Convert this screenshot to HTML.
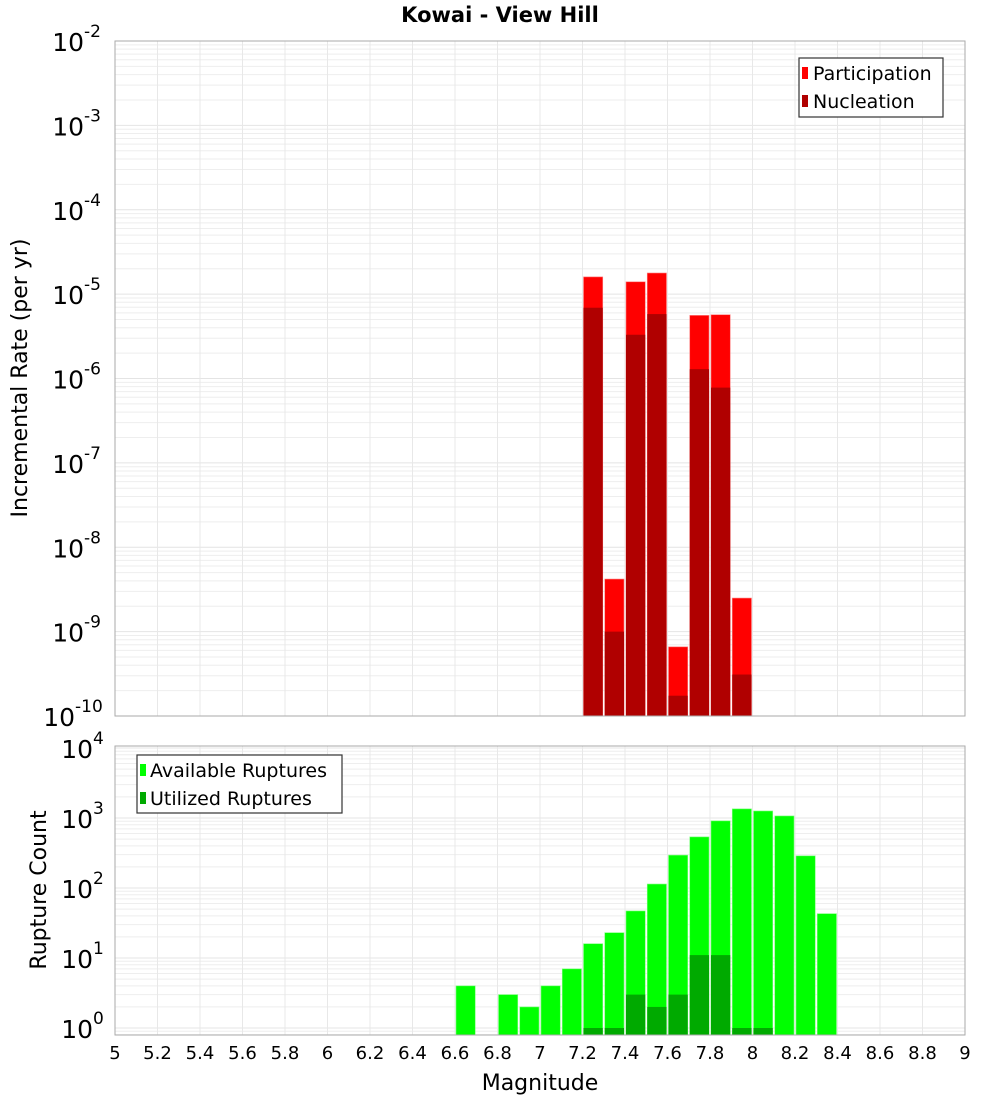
<!DOCTYPE html>
<html><head><meta charset="utf-8"><style>
body{margin:0;background:#fff;}
svg{display:block;font-family:"DejaVu Sans","Liberation Sans",sans-serif;}
</style></head><body>
<svg id="c" width="1000" height="1100" xmlns="http://www.w3.org/2000/svg">
<text x="500" y="22" text-anchor="middle" font-size="21" font-weight="bold">Kowai - View Hill</text>
<g id="topPlot"></g>
<g id="botPlot"></g>
<text transform="translate(27,378) rotate(-90)" text-anchor="middle" font-size="22">Incremental Rate (per yr)</text>
<text transform="translate(46,890) rotate(-90)" text-anchor="middle" font-size="22">Rupture Count</text>
<text x="540" y="1090" text-anchor="middle" font-size="22">Magnitude</text>
<g>
<rect x="799" y="58" width="144" height="59" fill="#fff" stroke="#333" stroke-width="1.2"/>
<rect x="802" y="67" width="6" height="12" fill="#ff0000"/>
<text x="813" y="80" font-size="19">Participation</text>
<rect x="802" y="95" width="6" height="12" fill="#b00000"/>
<text x="813" y="108" font-size="19">Nucleation</text>
</g>
<g>
<rect x="137" y="755" width="205" height="58" fill="#fff" stroke="#333" stroke-width="1.2"/>
<rect x="140" y="764" width="6" height="12" fill="#00ff00"/>
<text x="150" y="777" font-size="19">Available Ruptures</text>
<rect x="140" y="792" width="6" height="12" fill="#00aa00"/>
<text x="150" y="805" font-size="19">Utilized Ruptures</text>
</g>
</svg>
<script>
const mags=[6.6,6.7,6.8,6.9,7.0,7.1,7.2,7.3,7.4,7.5,7.6,7.7,7.8,7.9,8.0,8.1,8.2,8.3];
const available=[4,0,3,2,4,7,16,23,47,114,295,537,910,1350,1260,1070,288,43];
const utilized=[0,0,0,0,0,0,1,1,3,2,3,11,11,1,1,0,0,0];
const rateMags=[7.2,7.3,7.4,7.5,7.6,7.7,7.8,7.9];
const participation=[1.6e-5,4.2e-9,1.4e-5,1.78e-5,6.6e-10,5.6e-6,5.7e-6,2.5e-9];
const nucleation=[6.9e-6,1.0e-9,3.3e-6,5.8e-6,1.74e-10,1.29e-6,7.8e-7,3.1e-10];
const xTicks=[5,5.2,5.4,5.6,5.8,6,6.2,6.4,6.6,6.8,7,7.2,7.4,7.6,7.8,8,8.2,8.4,8.6,8.8,9];
const rateExps=[-2,-3,-4,-5,-6,-7,-8,-9,-10];
const countExps=[4,3,2,1,0];
const NS="http://www.w3.org/2000/svg";
const X0=115,X1=965;
const xs=m=>X0+(m-5)/4*(X1-X0);
const yTop=v=>41+(-2-Math.log10(v))*84.375;
const yBot=v=>1028-Math.log10(v)*70;
function mk(p,t,a){const e=document.createElementNS(NS,t);for(const k in a)e.setAttribute(k,a[k]);p.appendChild(e);return e;}
function panel(g,t0,b0,yf,lo,hi){
  mk(g,'rect',{x:X0,y:t0,width:X1-X0,height:b0-t0,fill:'#fff'});
  for(let d=lo;d<hi;d++)for(let k=1;k<10;k++){const y=yf(k*Math.pow(10,d));if(y>=t0&&y<=b0)mk(g,'line',{x1:X0,x2:X1,y1:y,y2:y,stroke:k==1?'#e4e4e4':'#eeeeee','stroke-width':1});}
  for(let i=0;i<=20;i++){const x=xs(5+i*0.2);mk(g,'line',{x1:x,x2:x,y1:t0,y2:b0,stroke:'#e8e8e8','stroke-width':1});}
}
const gTop=document.getElementById('topPlot'),gBot=document.getElementById('botPlot');
panel(gTop,41,716,yTop,-10,-2);
panel(gBot,746,1035,yBot,-1,5);
const bw=xs(5.1)-xs(5);
rateMags.forEach((m,i)=>{
  const x=xs(m)+1,w=bw-2;
  let r=mk(gTop,'rect',{x:x,y:yTop(participation[i]),width:w,height:716-yTop(participation[i]),fill:'#ff0000',stroke:'#ff8080','stroke-width':0.6});
  
  
  let n=mk(gTop,'rect',{x:x,y:yTop(nucleation[i]),width:w,height:716-yTop(nucleation[i]),fill:'#b00000'});
  
  
});
mags.forEach((m,i)=>{
  const x=xs(m)+1,w=bw-2;
  if(available[i]>0){
    let r=mk(gBot,'rect',{x:x,y:yBot(available[i]),width:w,height:1035-yBot(available[i]),fill:'#00ff00',stroke:'#80ff80','stroke-width':0.6});
    
    
  }
  if(utilized[i]>0){
    let u=mk(gBot,'rect',{x:x,y:yBot(utilized[i]),width:w,height:1035-yBot(utilized[i]),fill:'#00aa00'});
    
    
  }
});
mk(gTop,'rect',{x:X0,y:41,width:X1-X0,height:675,fill:'none',stroke:'#aaa','stroke-width':1});
mk(gBot,'rect',{x:X0,y:746,width:X1-X0,height:289,fill:'none',stroke:'#aaa','stroke-width':1});
function ylab(g,y,e){
  const es=String(e);
  const t=mk(g,'text',{x:102-es.length*9,y:y+10,'text-anchor':'end','font-size':25});
  t.textContent='10';
  
  
  const s=mk(g,'text',{x:102-es.length*9,y:y-4,'font-size':17});
  s.textContent=es;
  
  
}
rateExps.forEach(e=>ylab(gTop,yTop(Math.pow(10,e)),e));
countExps.forEach(e=>ylab(gBot,yBot(Math.pow(10,e)),e));
xTicks.forEach(m=>{
  const t=mk(gBot,'text',{x:xs(m),y:1059,'text-anchor':'middle','font-size':18});
  t.textContent=String(m);
  
  
});
</script>
</body></html>
